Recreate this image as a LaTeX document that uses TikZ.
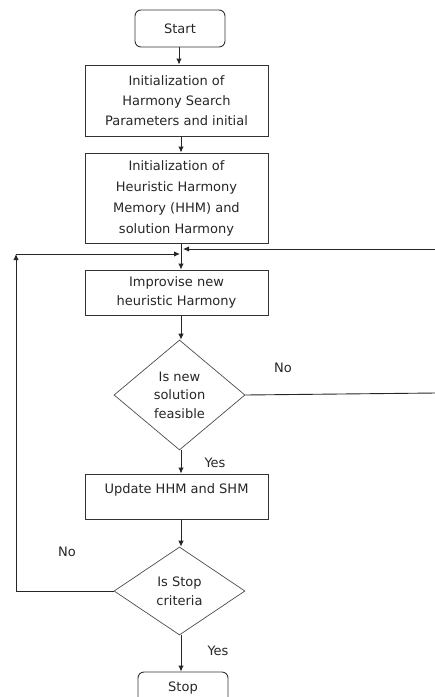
\documentclass[tikz,border=0pt]{standalone}
\usepackage{fontspec}
\setmainfont{DejaVu Sans}
\usetikzlibrary{shapes.geometric,arrows.meta}
\begin{document}
\begin{tikzpicture}[x=1pt,y=-1pt,
  every node/.style={text=black!85},
  fs/.style={font=\fontsize{13}{#1}\selectfont},
  boxst/.style={draw=black!80, line width=0.9pt, inner sep=0pt, align=center},
  termst/.style={boxst, rounded corners=6pt},
  decst/.style={draw=black!70, line width=0.7pt, diamond, inner sep=0pt, align=center},
  conn/.style={draw=black!85, line width=0.9pt},
  arr/.style={conn, -{Latex[length=6pt,width=5.5pt]}},
  lbl/.style={fs=15}]
\useasboundingbox (0,0) rectangle (435,697);
\clip (0,0) rectangle (435,697);
% nodes
\node[termst, fs=15, minimum width=90, minimum height=37] (start) at (180,28.5) {Start};
\node[boxst, fs=20, minimum width=183, minimum height=71] (init1) at (176.5,100.5)
  {Initialization of\\Harmony Search\\Parameters and initial};
\node[boxst, fs=21, minimum width=183, minimum height=90] (init2) at (176.5,198)
  {Initialization of\\Heuristic Harmony\\Memory (HHM) and\\solution Harmony};
\node[boxst, fs=18.5, minimum width=183, minimum height=45] (impr) at (176.5,292.5)
  {Improvise new\\heuristic Harmony};
\node[decst, fs=18.5, minimum width=131, minimum height=110] (feas) at (179.5,395)
  {Is new\\solution\\feasible};
\node[boxst, fs=15, minimum width=183, minimum height=45, text height=15pt, text depth=22pt] (upd) at (176.5,496.5)
  {Update HHM and SHM};
\node[decst, fs=19, minimum width=131, minimum height=88] (stopc) at (179.5,591)
  {Is Stop\\criteria};
\node[termst, fs=15, minimum width=90, minimum height=40, text height=17pt, text depth=19pt] (stop) at (183,692)
  {Stop};
% coordinates
\coordinate (j1) at (181,249);
\coordinate (j2) at (181,254);
\coordinate (rtop) at (436,249);
\coordinate (rmid) at (436,393);
\coordinate (ltop) at (16,254);
\coordinate (lbot) at (16,591);
% connectors
\draw[arr] (start.south -| 179,0) -- (init1.north -| 179,0);
\draw[arr] (init1.south -| 181,0) -- (init2.north -| 181,0);
\draw[conn] (init2.south -| 181,0) -- (j1);
\draw[arr] (j1) -- (impr.north -| 181,0);
\draw[arr] (rtop) -- (183,249);
\draw[arr] (lbot) -- (ltop);
\draw[arr] (ltop) -- (180,254);
\draw[arr] (impr.south -| 181,0) -- (feas.north -| 181,0);
\draw[conn] (feas.east) -- (rmid);
\draw[arr] (feas.south -| 181,0) -- (upd.north -| 181,0);
\draw[arr] (upd.south -| 181,0) -- (stopc.north -| 181,0);
\draw[conn] (stopc.west) -- (lbot);
\draw[arr] (stopc.south -| 181,0) -- (stop.north -| 181,0);
% labels
\node[lbl] (no1) at (283,368) {No};
\node[lbl] (yes1) at (215,463) {Yes};
\node[lbl] (no2) at (67,552) {No};
\node[lbl] (yes2) at (218,651) {Yes};
\end{tikzpicture}
\end{document}
